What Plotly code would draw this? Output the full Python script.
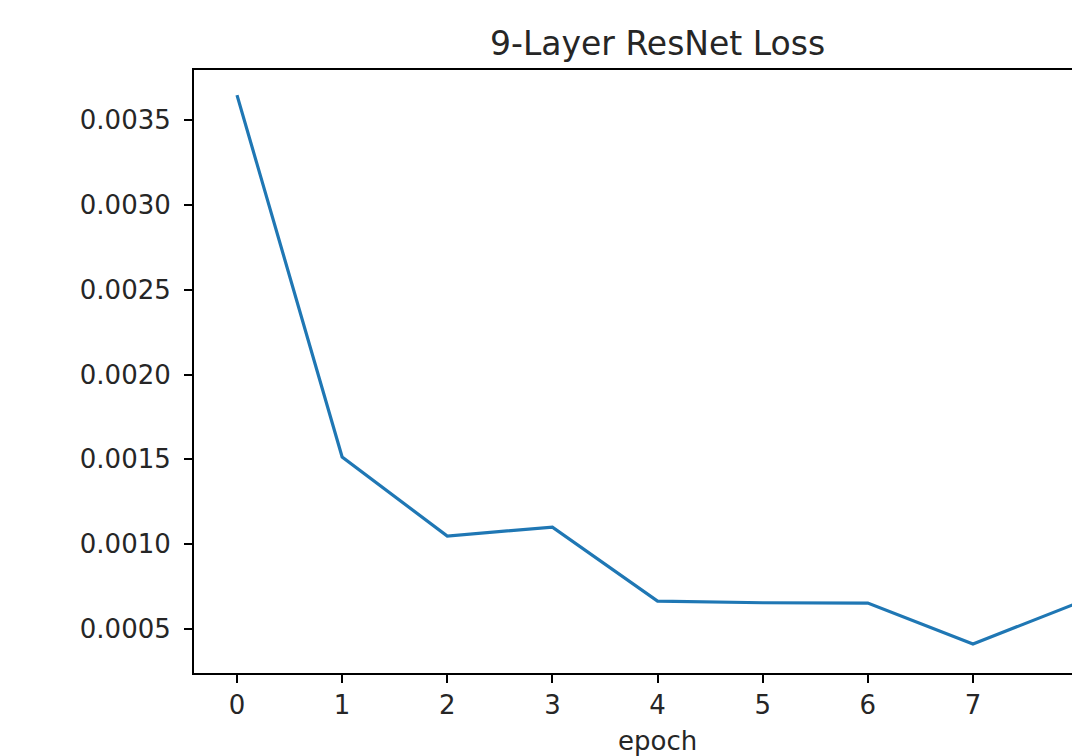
import plotly.graph_objects as go

epochs = [0, 1, 2, 3, 4, 5, 6, 7, 8]
loss = [0.003647, 0.001514, 0.001048, 0.001101, 0.000665, 0.000655, 0.000653, 0.000412, 0.000655]
y_ticks = [0.0005, 0.0010, 0.0015, 0.0020, 0.0025, 0.0030, 0.0035]
x_ticks = [0, 1, 2, 3, 4, 5, 6, 7, 8]

FONT = "DejaVu Sans"
TXT = "#262626"
fig = go.Figure()
fig.add_trace(go.Scatter(x=epochs, y=loss, mode="lines",
                         line=dict(color="#1f77b4", width=3.2), showlegend=False))

fig.update_layout(
    width=1072, height=756,
    margin=dict(l=194, r=0, t=70, b=83),
    paper_bgcolor="white", plot_bgcolor="white",
    font=dict(family=FONT, size=26, color=TXT),
    xaxis=dict(range=[-0.409, 7.942], tickvals=x_ticks, ticktext=[str(v) for v in x_ticks],
               showgrid=False, zeroline=False, showline=True, mirror=True,
               linecolor="black", linewidth=2, ticks="outside", ticklen=8,
               tickwidth=2, tickcolor="black", tickfont=dict(family=FONT, size=26, color=TXT)),
    yaxis=dict(range=[0.000241, 0.003795], tickvals=y_ticks,
               ticktext=[f"{v:.4f}" for v in y_ticks],
               showgrid=False, zeroline=False, showline=True, mirror=False,
               linecolor="black", linewidth=2, ticks="outside", ticklen=8,
               tickwidth=2, tickcolor="black", ticklabelstandoff=8,
               tickfont=dict(family=FONT, size=26, color=TXT)),
)
fig.add_annotation(text="9-Layer ResNet Loss", xref="paper", yref="paper",
                   x=(657 - 194) / 878, y=1 + 27 / 603, xanchor="center", yanchor="middle",
                   showarrow=False, font=dict(family=FONT, size=33, color=TXT))
fig.add_annotation(text="epoch", xref="paper", yref="paper",
                   x=(657 - 194) / 878, y=-(741 - 673) / 603, xanchor="center", yanchor="middle",
                   showarrow=False, font=dict(family=FONT, size=26, color=TXT))
fig.write_html("out.html", config={"displayModeBar": False},
               post_script="document.body.style.margin='0';document.body.style.overflow='hidden';")
